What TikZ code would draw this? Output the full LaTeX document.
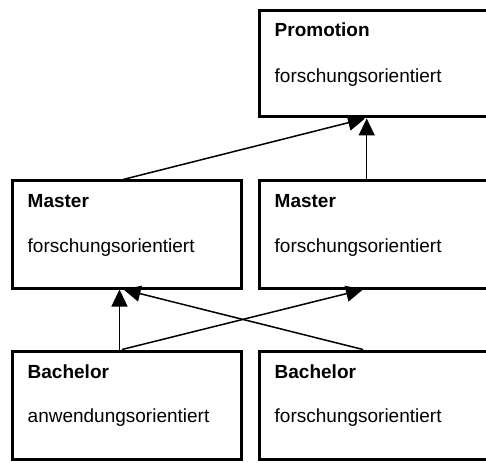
\documentclass[tikz,border=0pt]{standalone}
\usepackage{fontspec}
\setmainfont{Liberation Sans}
\usetikzlibrary{arrows.meta}
\begin{document}
\begin{tikzpicture}[x=1pt,y=-1pt,
  box/.style={draw=black, line width=3pt, rectangle, minimum width=229pt, inner sep=0pt},
  rbox/.style={box, minimum width=240pt},
  ttl/.style={anchor=base west, inner sep=0pt, font=\fontsize{19}{22}\selectfont\bfseries},
  sub/.style={anchor=base west, inner sep=0pt, font=\fontsize{19}{22}\selectfont},
  arr/.style={line width=1.5pt, -{Triangle[length=17pt,width=16pt]}}]
\useasboundingbox (0,0) rectangle (486,462);
\clip (0,0) rectangle (486,462);
\node[rbox, minimum height=106pt] (p)  at (379,64) {};
\node[box, minimum height=107pt] (ml) at (126.5,234.5) {};
\node[rbox, minimum height=107pt] (mr) at (379,234.5) {};
\node[box, minimum height=108pt] (bl) at (126.5,405) {};
\node[rbox, minimum height=108pt] (br) at (379,405) {};
\node[ttl] (pt) at ([xshift=17pt,yshift=-27pt]p.north west) {Promotion};
\node[sub] (ps) at ([xshift=17pt,yshift=-73pt]p.north west) {forschungsorientiert};
\node[ttl] (mlt) at ([xshift=17pt,yshift=-28pt]ml.north west) {Master};
\node[sub] (mls) at ([xshift=17pt,yshift=-73pt]ml.north west) {forschungsorientiert};
\node[ttl] (mrt) at ([xshift=17pt,yshift=-28pt]mr.north west) {Master};
\node[sub] (mrs) at ([xshift=17pt,yshift=-73pt]mr.north west) {forschungsorientiert};
\node[ttl] (blt) at ([xshift=17pt,yshift=-29pt]bl.north west) {Bachelor};
\node[sub] (bls) at ([xshift=17pt,yshift=-73pt]bl.north west) {anwendungsorientiert};
\node[ttl] (brt) at ([xshift=17pt,yshift=-29pt]br.north west) {Bachelor};
\node[sub] (brs) at ([xshift=17pt,yshift=-73pt]br.north west) {forschungsorientiert};
\draw[arr] ([xshift=-3.5pt]ml.north) -- ([xshift=-14pt]p.south);
\draw[arr] ([xshift=-12.3pt]mr.north) -- ([xshift=-12.3pt]p.south);
\draw[arr] ([xshift=-7pt]bl.north) -- ([xshift=-7pt]ml.south);
\draw[arr] ([xshift=-4.5pt]bl.north) -- ([xshift=-16pt]mr.south);
\draw[arr] ([xshift=-16pt]br.north) -- ([xshift=-3pt]ml.south);
\end{tikzpicture}
\end{document}
